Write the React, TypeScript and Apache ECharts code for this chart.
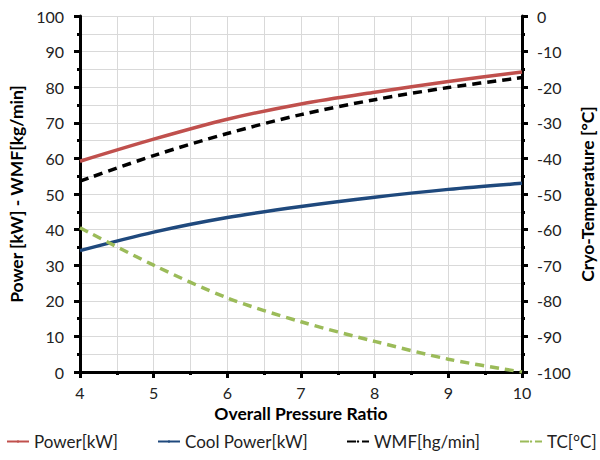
import React, { useEffect, useRef } from "react";
import * as echarts from "echarts";

const pressureRatio = [4, 5, 6, 7, 8, 9, 10];
const powerKW = [59.2, 65.4, 71.0, 75.3, 78.6, 81.6, 84.3];
const coolPowerKW = [34.1, 39.3, 43.4, 46.5, 49.1, 51.3, 53.0];
const wmf = [53.6, 60.8, 67.0, 72.3, 76.5, 79.9, 82.7];
const tc = [-59.5, -70.0, -79.2, -85.9, -91.4, -96.4, -100.0];

const seriesNames = ["Power[kW]", "Cool Power[kW]", "WMF[hg/min]", "TC[°C]"];
const seriesColors = ["#C0504D", "#1F497D", "#000000", "#9BBB59"];
const legendLefts = [6, 157, 346, 519];

const FONT = "Lato";

export default function App() {
  const ref = useRef<HTMLDivElement>(null);
  useEffect(() => {
    if (!ref.current) return;
    const chart = echarts.init(ref.current, undefined, { renderer: "svg" });
    const pairs = (ys: number[]) => pressureRatio.map((x, i) => [x, ys[i]]);
    const axisCommon = {
      axisLine: { show: true, lineStyle: { color: "#000", width: 3 } },
      axisTick: { show: true, length: 6, lineStyle: { color: "#000", width: 3 } },
      minorTick: { show: true, splitNumber: 2, length: 3, lineStyle: { color: "#000", width: 3 } },
      nameTextStyle: { color: "#000", fontFamily: FONT, fontSize: 17.5, fontWeight: "bold" },
    };
    const lineSeries = (i: number, ys: number[], dashed: boolean, yAxisIndex = 0) => ({
      name: seriesNames[i],
      type: "line",
      yAxisIndex,
      data: pairs(ys),
      smooth: 0.3,
      symbol: "none",
      lineStyle: { color: seriesColors[i], width: 3.5, type: dashed ? [9, 6] : "solid" },
      itemStyle: { color: seriesColors[i] },
    });
    chart.setOption({
      animation: false,
      textStyle: { fontFamily: FONT },
      grid: {
        left: 80,
        right: 78,
        top: 16,
        bottom: 88,
        containLabel: false,
        outerBoundsMode: "none",
      },
      legend: seriesNames.map((n, i) => ({
        bottom: 10,
        left: legendLefts[i],
        padding: 0,
        itemWidth: 22,
        itemHeight: 3,
        itemGap: 4,
        data: [n],
        textStyle: { fontFamily: FONT, fontSize: 17, color: "#222" },
      })),
      xAxis: {
        type: "value",
        min: 4,
        max: 10,
        interval: 1,
        name: "Overall Pressure Ratio",
        nameLocation: "middle",
        nameGap: 32,
        ...axisCommon,
        axisLabel: { color: "#222", fontFamily: FONT, fontSize: 16, margin: 12 },
        splitLine: { show: true, lineStyle: { color: "#d9d9d9", width: 1 } },
        minorSplitLine: { show: true, lineStyle: { color: "#d9d9d9", width: 1 } },
      },
      yAxis: [
        {
          type: "value",
          min: 0,
          max: 100,
          interval: 10,
          name: "Power [kW] - WMF[kg/min]",
          nameLocation: "middle",
          nameGap: 54,
          ...axisCommon,
          axisLabel: { color: "#222", fontFamily: FONT, fontSize: 16, margin: 16 },
          splitLine: { show: true, lineStyle: { color: "#d9d9d9", width: 1 } },
          minorSplitLine: { show: true, lineStyle: { color: "#d9d9d9", width: 1 } },
        },
        {
          type: "value",
          min: -100,
          max: 0,
          interval: 10,
          position: "right",
          name: "Cryo-Temperature [°C]",
          nameLocation: "middle",
          nameGap: 56,
          nameMoveOverlap: false,
          ...axisCommon,
          axisLabel: { color: "#222", fontFamily: FONT, fontSize: 16, margin: 15 },
          splitLine: { show: false },
          minorSplitLine: { show: false },
        },
      ],
      series: [
        lineSeries(0, powerKW, false),
        lineSeries(1, coolPowerKW, false),
        lineSeries(2, wmf, true),
        lineSeries(3, tc, true, 1),
      ],
    });
    return () => chart.dispose();
  }, []);
  return (
    <div
      ref={ref}
      style={{ position: "fixed", left: 0, top: 0, width: 600, height: 460, background: "#fff" }}
    />
  );
}
